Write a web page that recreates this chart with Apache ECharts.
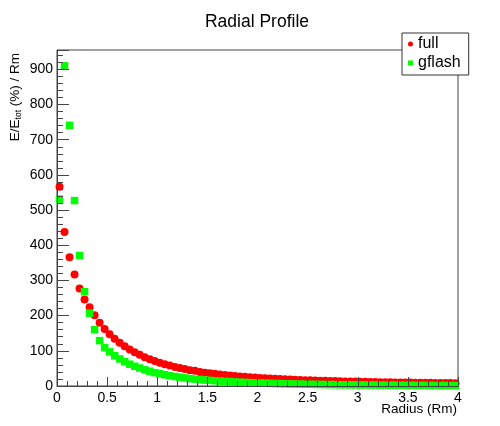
<!DOCTYPE html>
<html>
<head>
<meta charset="utf-8">
<script src="https://cdn.jsdelivr.net/npm/echarts@6/dist/echarts.min.js"></script>
<style>
html,body{margin:0;padding:0;background:#fff;}
#chart{width:500px;height:426px;}
</style>
</head>
<body>
<div id="chart"></div>
<script>
const chartTitle = 'Radial Profile';
const seriesNames = ['full', 'gflash'];
const radius = [
  0.025,0.075,0.125,0.175,0.225,0.275,0.325,0.375,0.425,0.475,
  0.525,0.575,0.625,0.675,0.725,0.775,0.825,0.875,0.925,0.975,
  1.025,1.075,1.125,1.175,1.225,1.275,1.325,1.375,1.425,1.475,
  1.525,1.575,1.625,1.675,1.725,1.775,1.825,1.875,1.925,1.975,
  2.025,2.075,2.125,2.175,2.225,2.275,2.325,2.375,2.425,2.475,
  2.525,2.575,2.625,2.675,2.725,2.775,2.825,2.875,2.925,2.975,
  3.025,3.075,3.125,3.175,3.225,3.275,3.325,3.375,3.425,3.475,
  3.525,3.575,3.625,3.675,3.725,3.775,3.825,3.875,3.925,3.975
];
const fullValues = [
  566,438,366,317,277,246,224,201,180,162,
  147,134,123,113,104,96,89,82,76,71,
  66,62,58,54,51,48,45,43,40,38,
  36,34.5,33,31.5,30,28.5,27,26,25,24,
  23,22,21.2,20.4,19.7,19,18.4,17.8,17.2,16.6,
  16.1,15.6,15.1,14.7,14.3,13.9,13.5,13.1,12.8,12.5,
  12.2,11.9,11.6,11.3,11.0,10.8,10.5,10.3,10.1,9.9,
  9.7,9.5,9.3,9.1,8.9,8.8,8.6,8.4,8.3,8.1
];
const gflashValues = [
  531,910,741,527,371,268,207,160,129,109,
  97,86,77,69,62,56,51,46,42,38,
  35,32,29,27,25,23,21,19.5,18,17,
  16,15,14,13,12.2,11.5,10.8,10.1,9.5,9.0,
  8.5,8.0,7.5,7.1,6.7,6.3,6.0,5.7,5.4,5.1,
  4.9,4.6,4.4,4.2,4.0,3.8,3.6,3.4,3.3,3.1,
  3.0,2.9,2.7,2.6,2.5,2.4,2.3,2.2,2.1,2.0,
  1.9,1.8,1.8,1.7,1.6,1.6,1.5,1.4,1.4,1.3
];

const fontFam = '"Liberation Sans", Arial, Helvetica, sans-serif';
const zip = (xs, ys) => xs.map((x, i) => [x, ys[i]]);

const chart = echarts.init(document.getElementById('chart'), null, {renderer: 'canvas'});
chart.setOption({
  animation: false,
  backgroundColor: '#fff',
  textStyle: {fontFamily: fontFam, color: '#000'},
  grid: {left: 57, top: 50, width: 401, height: 336, show: true, borderColor: '#444', borderWidth: 1, backgroundColor: 'transparent'},
  xAxis: {
    type: 'value', min: 0, max: 4, interval: 0.5, z: 5,
    axisLine: {show: true, lineStyle: {color: '#444', width: 1}},
    axisTick: {show: true, inside: true, length: 9, lineStyle: {color: '#444'}},
    minorTick: {show: true, splitNumber: 5, length: 5, lineStyle: {color: '#444'}},
    splitLine: {show: false},
    axisLabel: {fontSize: 14, color: '#000', margin: 5, fontFamily: fontFam}
  },
  yAxis: {
    type: 'value', min: 0, max: 955, interval: 100, z: 5,
    axisLine: {show: true, lineStyle: {color: '#444', width: 1}},
    axisTick: {show: true, inside: true, length: 12, lineStyle: {color: '#444'}},
    minorTick: {show: true, splitNumber: 5, length: 6, lineStyle: {color: '#444'}},
    splitLine: {show: false},
    axisLabel: {fontSize: 14, color: '#000', margin: 4, showMaxLabel: false, fontFamily: fontFam}
  },
  legend: {
    orient: 'vertical', left: 402, top: 33,
    padding: [3, 8, 4, 6],
    itemWidth: 5, itemHeight: 5, itemGap: 3,
    backgroundColor: '#fff', borderColor: '#333', borderWidth: 1,
    selectedMode: false,
    textStyle: {fontSize: 16, lineHeight: 16, color: '#000', fontFamily: fontFam},
    data: [{name: seriesNames[0], icon: 'circle'}, {name: seriesNames[1], icon: 'rect'}]
  },
  graphic: [
    {type: 'text', x: 257, y: 22, style: {text: chartTitle, fontSize: 17.5, fontFamily: fontFam, fill: '#000', textAlign: 'center', textVerticalAlign: 'middle'}},
    {type: 'text', x: 457, y: 409, style: {text: 'Radius (Rm)', fontSize: 13.5, fontFamily: fontFam, fill: '#000', textAlign: 'right', textVerticalAlign: 'middle'}},
    {type: 'text', x: 15, y: 53, rotation: Math.PI / 2,
     style: {text: '{m|E/E}{s|tot}{m| (%) / Rm}', fontFamily: fontFam, fill: '#000', textAlign: 'right', textVerticalAlign: 'middle',
       rich: {m: {fontSize: 13.5, lineHeight: 16, fontFamily: fontFam, fill: '#000'}, s: {fontSize: 8.5, lineHeight: 16, verticalAlign: 'bottom', fontFamily: fontFam, fill: '#000'}}}}
  ],
  series: [
    {name: seriesNames[0], type: 'scatter', symbol: 'circle', symbolSize: 8, itemStyle: {color: '#ff0000', opacity: 1}, data: zip(radius, fullValues), z: 2},
    {name: seriesNames[1], type: 'scatter', symbol: 'rect', symbolSize: 7.5, itemStyle: {color: '#00ff00', opacity: 1}, data: zip(radius, gflashValues), z: 3}
  ]
});
</script>
</body>
</html>
